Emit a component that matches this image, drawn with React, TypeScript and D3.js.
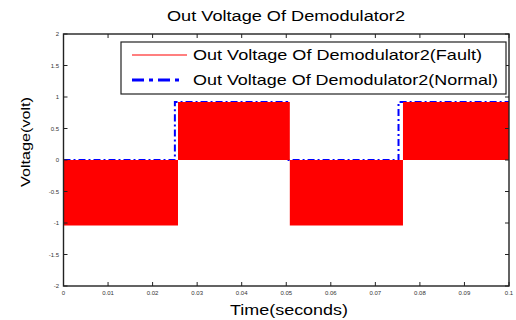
import React from "react";
import * as d3 from "d3";

// values
const faultTimes = [0, 0.0257, 0.0257, 0.0508, 0.0508, 0.0762, 0.0762, 0.1];
const faultValues = [-1.04, -1.04, 0.92, 0.92, -1.04, -1.04, 0.92, 0.92];
const normalTimes = [0, 0.025, 0.025, 0.0502, 0.0502, 0.0752, 0.0752, 0.1];
const normalValues = [0, 0, 0.92, 0.92, 0, 0, 0.92, 0.92];
const xTicks = [0, 0.01, 0.02, 0.03, 0.04, 0.05, 0.06, 0.07, 0.08, 0.09, 0.1];
const yTicks = [-2, -1.5, -1, -0.5, 0, 0.5, 1, 1.5, 2];
const legendLabels = [
  "Out Voltage Of Demodulator2(Fault)",
  "Out Voltage Of Demodulator2(Normal)",
];

const width = 516;
const height = 320;
const margin = { top: 34, right: 7, bottom: 34, left: 63.5 };
const font = "'Liberation Sans', Arial, sans-serif";

export default function App() {
  const x = d3.scaleLinear().domain([0, 0.1]).range([margin.left, width - margin.right]);
  const y = d3.scaleLinear().domain([-2, 2]).range([height - margin.bottom, margin.top]);

  const fault = faultTimes.map((t, i) => [t, faultValues[i]] as [number, number]);
  const normal = normalTimes.map((t, i) => [t, normalValues[i]] as [number, number]);

  const area = d3.area<[number, number]>()
    .x(d => x(d[0]))
    .y0(y(0))
    .y1(d => y(d[1]));
  const line = d3.line<[number, number]>()
    .x(d => x(d[0]))
    .y(d => y(d[1]));

  const x0 = x(0), x1 = x(0.1), yTop = y(2), yBot = y(-2);
  const axisColor = "#222";

  return (
    <svg width={width} height={height} style={{ position: "absolute", left: 0, top: 0, background: "#fff" }}>
      {/* title */}
      <text x={286} y={21} fontFamily={font} fontSize={14} textAnchor="middle"
        textLength={238} lengthAdjust="spacingAndGlyphs">Out Voltage Of Demodulator2</text>

      {/* data */}
      <path d={line(normal) || ""} fill="none" stroke="#0000ff" strokeWidth={2} strokeDasharray="7,3,2,3" />
      <path d={area(fault) || ""} fill="#ff0000" stroke="none" />

      {/* box */}
      <rect x={x0} y={yTop} width={x1 - x0} height={yBot - yTop} fill="none" stroke={axisColor} strokeWidth={1.4} />

      {/* x ticks */}
      {xTicks.map(t => (
        <g key={"x" + t}>
          <line x1={x(t)} x2={x(t)} y1={yBot} y2={yBot - 4} stroke={axisColor} strokeWidth={1} />
          <line x1={x(t)} x2={x(t)} y1={yTop} y2={yTop + 4} stroke={axisColor} strokeWidth={1} />
          <text x={x(t)} y={295} fontFamily={font} fontSize={6} textAnchor="middle" fill="#333">{d3.format("")(t)}</text>
        </g>
      ))}

      {/* y ticks */}
      {yTicks.map(t => (
        <g key={"y" + t}>
          <line x1={x0} x2={x0 + 4} y1={y(t)} y2={y(t)} stroke={axisColor} strokeWidth={1} />
          <line x1={x1} x2={x1 - 4} y1={y(t)} y2={y(t)} stroke={axisColor} strokeWidth={1} />
          <text x={59} y={y(t) + 2} fontFamily={font} fontSize={6} textAnchor="end" fill="#333">{String(t)}</text>
        </g>
      ))}

      {/* axis labels */}
      <text x={289} y={315} fontFamily={font} fontSize={14} textAnchor="middle"
        textLength={118} lengthAdjust="spacingAndGlyphs">Time(seconds)</text>
      <text transform="translate(30,142) rotate(-90)" fontFamily={font} fontSize={13} textAnchor="middle"
        textLength={90} lengthAdjust="spacingAndGlyphs">Voltage(volt)</text>

      {/* legend */}
      <rect x={121} y={42} width={385} height={52} fill="#fff" stroke={axisColor} strokeWidth={1.2} />
      <line x1={132} x2={187} y1={55} y2={55} stroke="#ff0000" strokeWidth={1.2} />
      <line x1={132} x2={184} y1={80} y2={80} stroke="#0000ff" strokeWidth={3} strokeDasharray="12,5,4,5" />
      <text x={193} y={60} fontFamily={font} fontSize={15}
        textLength={289} lengthAdjust="spacingAndGlyphs">{legendLabels[0]}</text>
      <text x={193} y={85} fontFamily={font} fontSize={15}
        textLength={305} lengthAdjust="spacingAndGlyphs">{legendLabels[1]}</text>
    </svg>
  );
}
